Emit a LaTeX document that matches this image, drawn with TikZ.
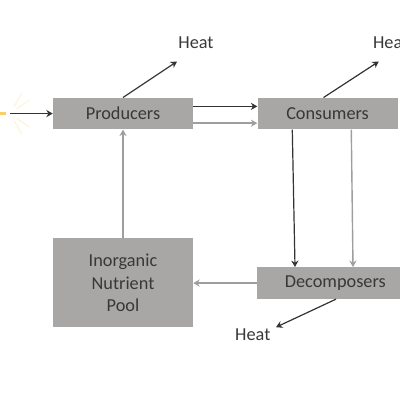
\documentclass[tikz,border=0pt]{standalone}
\usepackage{fontspec}
\setmainfont{Carlito}
\usetikzlibrary{positioning,arrows.meta,calc}
\definecolor{boxgrey}{HTML}{A9A6A6}
\definecolor{figdark}{gray}{0.2}
\definecolor{figlight}{gray}{0.62}
\definecolor{txtgrey}{gray}{0.22}
\definecolor{sunrays}{HTML}{F5C242}
\tikzset{
  fig/.style={font=\fontsize{13}{16}\selectfont,text=txtgrey},
  box/.style={fill=boxgrey,minimum height=7.9mm,minimum width=35mm,align=center,
              inner sep=0pt},
  ln/.style={-{Stealth[length=1.6mm,width=1.8mm]},figdark,line width=0.3mm},
  lnl/.style={-{Stealth[length=1.6mm,width=1.8mm]},figlight,line width=0.35mm},
  lbl/.style={inner sep=0pt},
}
\begin{document}
\begin{tikzpicture}[fig]
\useasboundingbox (0,0) rectangle (100mm,100mm);

\node[box] (prod) at (30.75mm,71.6mm) {Producers};
\node[box,right=16mm of prod] (cons) {Consumers};
\node[box,minimum height=22.3mm,anchor=north] (pool) at (30.75mm,40.5mm) {Inorganic\\Nutrient\\Pool};
\node[box,minimum width=39mm,anchor=north west] (decomp) at (64.25mm,33.25mm) {Decomposers};

\node[lbl] (heat1) at (49mm,89.2mm) {Heat};
\node[lbl,anchor=west] (heat2) at (93.2mm,89.2mm) {Heat};
\node[lbl] (heat3) at (63.2mm,16.2mm) {Heat};

\coordinate (sun) at (2.5mm,71.6mm);
\coordinate (tip1) at ($(prod.north)+(13.5mm,9mm)$);
\coordinate (tip2) at ($(cons.north)+(12.8mm,9mm)$);
\coordinate (tip3) at (69mm,18.2mm);

% faint rays
\foreach \ang in {-60,-35,35,60}
  \draw[sunrays,line width=0.3mm,opacity=0.18] (sun) ++(\ang:2mm) -- ++(\ang:4mm);
\draw[sunrays,line width=0.6mm,opacity=0.8] (0,71.6mm) -- (1.6mm,71.6mm);

\draw[ln] (sun) -- (prod.west);
\draw[ln] ($(prod.east)+(0,1.8mm)$) -- ($(cons.west)+(0,1.8mm)$);
\draw[lnl] ($(prod.east)+(0,-2.4mm)$) -- ($(cons.west)+(0,-2.4mm)$);
\draw[ln] (prod.north) -- (tip1);
\draw[ln] ($(cons.north)+(-1mm,0)$) -- (tip2);
\draw[ln] ($(cons.south west)+(8.75mm,0)$) -- ($(decomp.north west)+(9.5mm,0)$);
\draw[lnl] ($(cons.south west)+(23.5mm,0)$) -- ($(decomp.north west)+(24mm,0)$);
\draw[lnl] (decomp.west) -- (decomp.west -| pool.east);
\draw[lnl] (pool.north) -- (prod.south);
\draw[ln] ($(decomp.south west)+(19.75mm,0)$) -- (tip3);
\end{tikzpicture}
\end{document}
